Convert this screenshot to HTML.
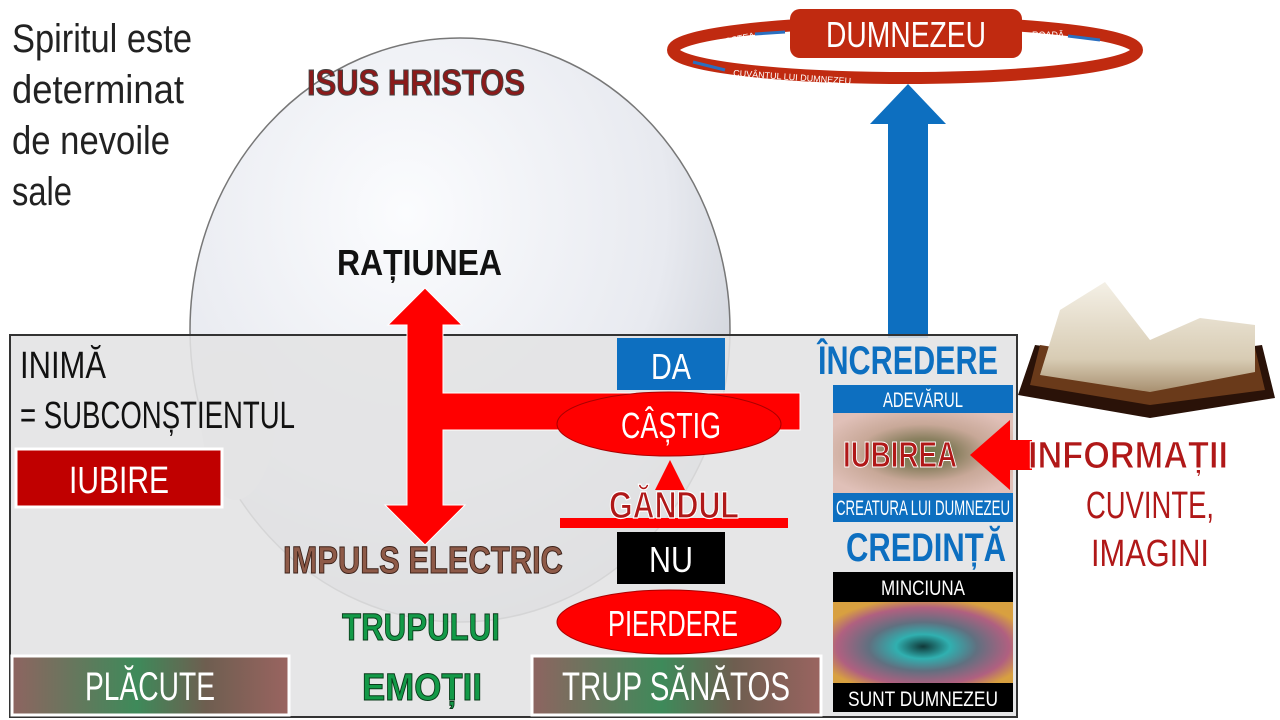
<!DOCTYPE html>
<html><head><meta charset="utf-8"><style>
html,body{margin:0;padding:0;background:#fff;}
svg{display:block;font-family:"Liberation Sans",sans-serif;}
</style></head><body>
<svg width="1280" height="720" viewBox="0 0 1280 720" xmlns="http://www.w3.org/2000/svg">
<defs>
<radialGradient id="head" cx="0.4" cy="0.3" r="0.8">
<stop offset="0" stop-color="#fbfcfe"/><stop offset="0.6" stop-color="#e8eaf0"/><stop offset="1" stop-color="#c0c4cc"/>
</radialGradient>
<linearGradient id="bx" x1="0" x2="1"><stop offset="0" stop-color="#8e6460"/><stop offset="0.45" stop-color="#3e8a5a"/><stop offset="0.7" stop-color="#6e5e50"/><stop offset="1" stop-color="#9a6460"/></linearGradient>
<radialGradient id="eye1" cx="0.5" cy="0.5" r="0.6"><stop offset="0" stop-color="#6d7a48"/><stop offset="0.3" stop-color="#8a8060"/><stop offset="0.6" stop-color="#c8a898"/><stop offset="1" stop-color="#e0c0b8"/></radialGradient>
<radialGradient id="eye2" cx="0.5" cy="0.55" r="0.6"><stop offset="0" stop-color="#103838"/><stop offset="0.25" stop-color="#30b0b0"/><stop offset="0.5" stop-color="#607080"/><stop offset="0.8" stop-color="#b06080"/><stop offset="1" stop-color="#d8a040"/></radialGradient>
<linearGradient id="book" x1="0" x2="0" y1="0" y2="1"><stop offset="0" stop-color="#f4f0e6"/><stop offset="0.7" stop-color="#d8ccb4"/><stop offset="1" stop-color="#a89070"/></linearGradient>
</defs>

<!-- head -->
<ellipse cx="460" cy="330" rx="270" ry="292" fill="url(#head)" stroke="#777" stroke-width="1.5"/>
<path d="M200 360 C230 340 270 350 275 400 C280 450 260 500 235 500 C215 500 205 460 200 420 Z" fill="#e8e8e8"/>

<!-- text top left -->
<g font-size="40" fill="#222">
<text x="12" y="52" textLength="180" lengthAdjust="spacingAndGlyphs">Spiritul este</text>
<text x="12" y="103" textLength="172" lengthAdjust="spacingAndGlyphs">determinat</text>
<text x="12" y="154" textLength="158" lengthAdjust="spacingAndGlyphs">de nevoile</text>
<text x="12" y="205" textLength="60" lengthAdjust="spacingAndGlyphs">sale</text>
</g>
<text x="307" y="95" font-size="36" font-weight="bold" fill="#8b1a1a" stroke="#444" stroke-width="1" textLength="218" lengthAdjust="spacingAndGlyphs">ISUS HRISTOS</text>
<text x="337" y="275" font-size="36" font-weight="bold" fill="#111" textLength="165" lengthAdjust="spacingAndGlyphs">RAȚIUNEA</text>

<!-- blue arrow -->
<rect x="888" y="120" width="40" height="218" fill="#0d6fc0"/>
<polygon points="908,84 946,124 870,124" fill="#0d6fc0"/>

<!-- ring -->
<ellipse cx="905" cy="50" rx="232" ry="28" fill="none" stroke="#c02a10" stroke-width="12"/>
<rect x="790" y="9" width="232" height="49" rx="10" fill="#c02a10"/>
<text x="906" y="47" font-size="36" fill="#fff" text-anchor="middle" textLength="160" lengthAdjust="spacingAndGlyphs">DUMNEZEU</text>
<g font-size="9" fill="#fff">
<text x="700" y="50" transform="rotate(-12 700 50)">DRAGOSTEA</text>
<text x="1032" y="38">ROADĂ</text>
<text x="733" y="76" transform="rotate(4 733 76)">CUVÂNTUL LUI DUMNEZEU</text>
</g>
<g stroke="#2a6fc0" stroke-width="3" fill="none">
<line x1="755" y1="34" x2="785" y2="32"/><line x1="1068" y1="36" x2="1100" y2="40"/><line x1="693" y1="62" x2="725" y2="70"/>
</g>

<!-- book -->
<path d="M1018 395 L1035 345 L1150 360 L1262 345 L1275 398 L1150 418 Z" fill="#2a1208"/>
<path d="M1030 385 L1040 345 L1150 362 L1255 348 L1265 390 L1150 405 Z" fill="#6a3a1a"/>
<path d="M1040 375 L1060 310 L1105 282 L1150 340 L1200 318 L1255 325 L1255 372 L1150 392 Z" fill="url(#book)"/>

<!-- main box -->
<rect x="10" y="335" width="1007" height="382" fill="rgba(226,226,228,0.88)" stroke="#333" stroke-width="2"/>

<g font-size="38" fill="#111">
<text x="20" y="378" textLength="86" lengthAdjust="spacingAndGlyphs">INIMĂ</text>
<text x="20" y="428" textLength="275" lengthAdjust="spacingAndGlyphs">= SUBCONȘTIENTUL</text>
</g>
<rect x="16" y="449" width="206" height="58" fill="#c00000" stroke="#fff" stroke-width="3"/>
<text x="119" y="493" font-size="38" fill="#fff" text-anchor="middle" textLength="100" lengthAdjust="spacingAndGlyphs">IUBIRE</text>

<!-- red T arrow -->
<path d="M407 325 L388 325 L425 288 L462 325 L443 325 L443 393 L800 393 L800 430 L443 430 L443 505 L465 505 L425 545 L385 505 L407 505 Z" fill="#ff0000" stroke="#fff" stroke-width="1"/>

<!-- DA / castig -->
<rect x="617" y="338" width="108" height="52" fill="#0d6fc0"/>
<text x="671" y="379" font-size="36" fill="#fff" text-anchor="middle" textLength="40" lengthAdjust="spacingAndGlyphs">DA</text>
<ellipse cx="669" cy="424" rx="112" ry="32" fill="#ff0000" stroke="#a00" stroke-width="1"/>
<text x="671" y="438" font-size="36" fill="#fff" text-anchor="middle" textLength="100" lengthAdjust="spacingAndGlyphs">CÂȘTIG</text>

<polygon points="670,460 685,490 655,490" fill="#ff0000"/>
<rect x="560" y="518" width="228" height="10" fill="#ff0000"/>
<text x="674" y="518" font-size="38" font-weight="bold" fill="#b01818" stroke="#fff" stroke-width="1.2" text-anchor="middle" textLength="130" lengthAdjust="spacingAndGlyphs">GĂNDUL</text>

<rect x="617" y="532" width="108" height="52" fill="#000"/>
<text x="671" y="572" font-size="36" fill="#fff" text-anchor="middle" textLength="44" lengthAdjust="spacingAndGlyphs">NU</text>
<ellipse cx="669" cy="622" rx="112" ry="32" fill="#ff0000" stroke="#a00" stroke-width="1"/>
<text x="673" y="636" font-size="36" fill="#fff" text-anchor="middle" textLength="130" lengthAdjust="spacingAndGlyphs">PIERDERE</text>

<text x="283" y="573" font-size="38" font-weight="bold" fill="#8e5a48" stroke="#3a2018" stroke-width="1" textLength="280" lengthAdjust="spacingAndGlyphs">IMPULS ELECTRIC</text>
<text x="342" y="640" font-size="38" font-weight="bold" fill="#139a48" stroke="#0a3a1a" stroke-width="1" textLength="158" lengthAdjust="spacingAndGlyphs">TRUPULUI</text>
<text x="362" y="700" font-size="38" font-weight="bold" fill="#139a48" stroke="#0a3a1a" stroke-width="1" textLength="120" lengthAdjust="spacingAndGlyphs">EMOȚII</text>

<rect x="12" y="656" width="277" height="59" fill="url(#bx)" stroke="#fff" stroke-width="3"/>
<text x="150" y="700" font-size="40" fill="#fff" text-anchor="middle" textLength="130" lengthAdjust="spacingAndGlyphs">PLĂCUTE</text>
<rect x="532" y="656" width="289" height="59" fill="url(#bx)" stroke="#fff" stroke-width="3"/>
<text x="676" y="700" font-size="40" fill="#fff" text-anchor="middle" textLength="228" lengthAdjust="spacingAndGlyphs">TRUP SĂNĂTOS</text>

<!-- right column -->
<text x="818" y="374" font-size="40" font-weight="bold" fill="#0d6fc0" textLength="180" lengthAdjust="spacingAndGlyphs">ÎNCREDERE</text>
<rect x="833" y="385" width="180" height="28" fill="#0d6fc0"/>
<text x="923" y="407" font-size="21" fill="#fff" text-anchor="middle" textLength="80" lengthAdjust="spacingAndGlyphs">ADEVĂRUL</text>
<rect x="833" y="413" width="180" height="80" fill="url(#eye1)"/>
<text x="900" y="467" font-size="36" font-weight="bold" fill="#b01818" stroke="#fff" stroke-width="1" text-anchor="middle" textLength="114" lengthAdjust="spacingAndGlyphs">IUBIREA</text>
<rect x="833" y="493" width="180" height="29" fill="#0d6fc0"/>
<text x="923" y="515" font-size="21" fill="#fff" text-anchor="middle" textLength="174" lengthAdjust="spacingAndGlyphs">CREATURA LUI DUMNEZEU</text>
<text x="846" y="561" font-size="40" font-weight="bold" fill="#0d6fc0" textLength="160" lengthAdjust="spacingAndGlyphs">CREDINȚĂ</text>
<rect x="833" y="572" width="180" height="30" fill="#000"/>
<text x="923" y="595" font-size="21" fill="#fff" text-anchor="middle" textLength="84" lengthAdjust="spacingAndGlyphs">MINCIUNA</text>
<rect x="833" y="602" width="180" height="81" fill="url(#eye2)"/>
<rect x="833" y="683" width="180" height="29" fill="#000"/>
<text x="923" y="706" font-size="21" fill="#fff" text-anchor="middle" textLength="150" lengthAdjust="spacingAndGlyphs">SUNT DUMNEZEU</text>

<!-- input arrow -->
<polygon points="970,455 1010,420 1010,440 1032,440 1032,470 1010,470 1010,490" fill="#ff0000"/>
<text x="1028" y="468" font-size="38" font-weight="bold" fill="#b01818" stroke="#fff" stroke-width="1" textLength="200" lengthAdjust="spacingAndGlyphs">INFORMAȚII</text>
<text x="1150" y="518" font-size="38" fill="#b01818" text-anchor="middle" textLength="128" lengthAdjust="spacingAndGlyphs">CUVINTE,</text>
<text x="1150" y="566" font-size="38" fill="#b01818" text-anchor="middle" textLength="118" lengthAdjust="spacingAndGlyphs">IMAGINI</text>
</svg>
</body></html>
